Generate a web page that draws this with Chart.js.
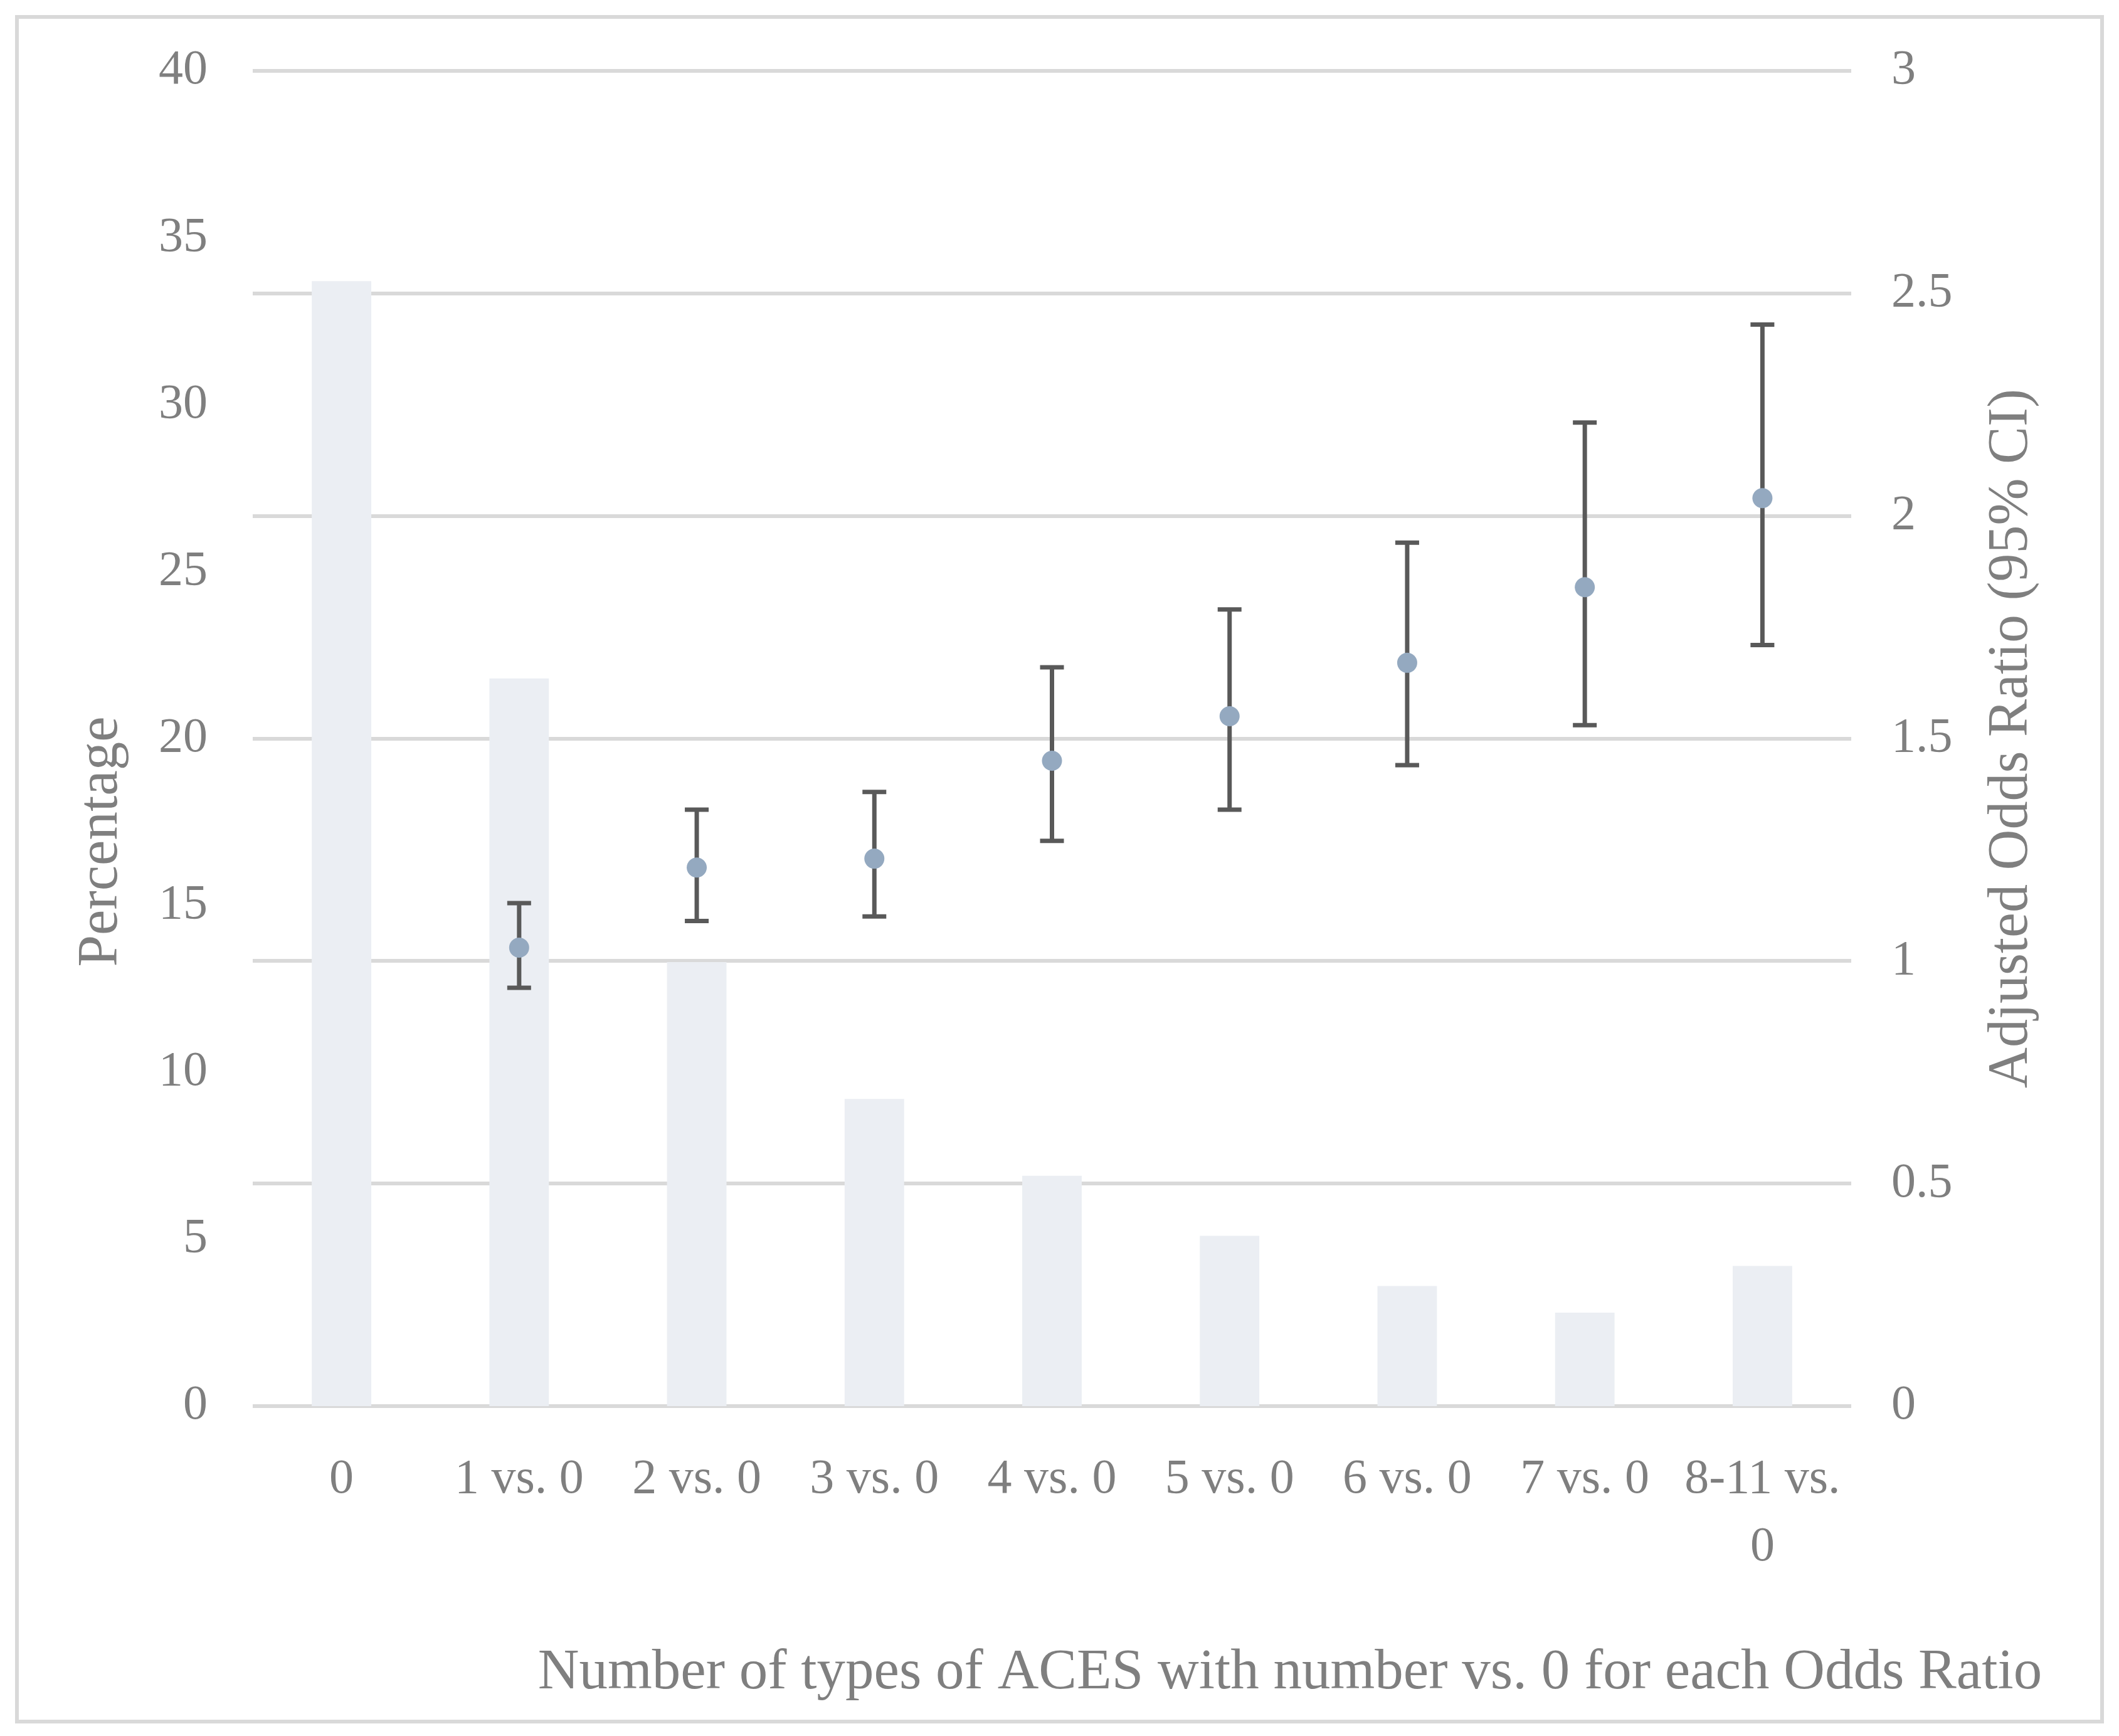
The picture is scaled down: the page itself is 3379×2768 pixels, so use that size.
<!DOCTYPE html>
<html>
<head>
<meta charset="utf-8">
<script src="https://cdn.jsdelivr.net/npm/chart.js@4.4.0/dist/chart.umd.min.js"></script>
<style>
  html, body { margin: 0; padding: 0; background: #fff; }
  canvas { display: block; }
</style>
</head>
<body>
<canvas id="acesChart" width="3379" height="2768"></canvas>
<script>
// Data
const categories = ['0', '1 vs. 0', '2 vs. 0', '3 vs. 0', '4 vs. 0', '5 vs. 0', '6 vs. 0', '7 vs. 0', ['8-11 vs.', '0']];
const percentages = [33.7, 21.8, 13.3, 9.2, 6.9, 5.1, 3.6, 2.8, 4.2];
const oddsRatios = [null, 1.03, 1.21, 1.23, 1.45, 1.55, 1.67, 1.84, 2.04];
const ciLower = [null, 0.94, 1.09, 1.10, 1.27, 1.34, 1.44, 1.53, 1.71];
const ciUpper = [null, 1.13, 1.34, 1.38, 1.66, 1.79, 1.94, 2.21, 2.43];

const xTitle = 'Number of types of ACES with number vs. 0 for each Odds Ratio';
const leftTitle = 'Percentage';
const rightTitle = 'Adjusted Odds Ratio (95% CI)';

const textColor = '#7f7f7f';
const fontFamily = "'Liberation Serif', 'DejaVu Serif', serif";

Chart.defaults.font.family = fontFamily;
Chart.defaults.color = textColor;

// white background + light grey frame
const frame = {
    id: 'frame',
    beforeDraw(chart) {
        const ctx = chart.ctx;
        ctx.save();
        ctx.fillStyle = '#ffffff';
        ctx.fillRect(0, 0, chart.width, chart.height);
        ctx.strokeStyle = '#d9d9d9';
        ctx.lineWidth = 6;
        ctx.strokeRect(27, 27, chart.width - 54, chart.height - 50);
        ctx.restore();
    }
};

// 95% CI whiskers, drawn just before the points so the dots sit on top
const errorBars = {
    id: 'errorBars',
    beforeDatasetDraw(chart, args) {
        if (args.index !== 1) return;
        const ctx = chart.ctx;
        const x = chart.scales.x;
        const y1 = chart.scales.y1;
        ctx.save();
        ctx.strokeStyle = '#595959';
        ctx.lineWidth = 7;
        ctx.lineCap = 'butt';
        for (let i = 0; i < categories.length; i++) {
            if (oddsRatios[i] == null) continue;
            const px = x.getPixelForValue(i);
            const top = y1.getPixelForValue(ciUpper[i]);
            const bot = y1.getPixelForValue(ciLower[i]);
            ctx.beginPath();
            ctx.moveTo(px, top);
            ctx.lineTo(px, bot);
            ctx.moveTo(px - 19, top);
            ctx.lineTo(px + 19, top);
            ctx.moveTo(px - 19, bot);
            ctx.lineTo(px + 19, bot);
            ctx.stroke();
        }
        ctx.restore();
    }
};

// axis titles placed like the original (left one sits lower, both read bottom-up)
const axisTitles = {
    id: 'axisTitles',
    afterDraw(chart) {
        const ctx = chart.ctx;
        const area = chart.chartArea;
        ctx.save();
        ctx.fillStyle = textColor;
        ctx.textAlign = 'center';
        ctx.textBaseline = 'middle';
        ctx.font = '91px ' + fontFamily;

        ctx.fillText(xTitle, 2057, 2668);

        ctx.save();
        ctx.translate(162, 1342);
        ctx.rotate(-Math.PI / 2);
        ctx.fillText(leftTitle, 0, 0);
        ctx.restore();

        ctx.save();
        ctx.font = '90px ' + fontFamily;
        ctx.translate(3208, (area.top + area.bottom) / 2);
        ctx.rotate(-Math.PI / 2);
        ctx.fillText(rightTitle, 0, 0);
        ctx.restore();

        ctx.restore();
    }
};

new Chart(document.getElementById('acesChart'), {
    type: 'bar',
    data: {
        labels: categories,
        datasets: [{
            label: 'Percentage',
            data: percentages,
            yAxisID: 'y',
            order: 2,
            backgroundColor: '#ebeef3',
            barPercentage: 0.335,
            categoryPercentage: 1.0
        }, {
            type: 'line',
            label: 'Adjusted Odds Ratio',
            data: oddsRatios,
            yAxisID: 'y1',
            order: 1,
            showLine: false,
            pointRadius: 16,
            pointHoverRadius: 16,
            pointBorderWidth: 0,
            pointBackgroundColor: '#94a9c0',
            borderColor: '#94a9c0'
        }]
    },
    options: {
        responsive: false,
        devicePixelRatio: 1,
        animation: false,
        layout: { padding: { left: 60, right: 60, top: 113, bottom: 20 } },
        plugins: {
            legend: { display: false },
            tooltip: { enabled: false }
        },
        scales: {
            x: {
                grid: { display: false },
                border: { display: false },
                ticks: {
                    font: { size: 78, lineHeight: 1.38 },
                    padding: 56,
                    maxRotation: 0,
                    autoSkip: false
                },
                afterFit(scale) { scale.height = 506; }
            },
            y: {
                position: 'left',
                min: 0,
                max: 40,
                grid: { display: false },
                border: { display: false },
                ticks: { stepSize: 5, font: { size: 78 }, padding: 64 },
                afterFit(scale) { scale.width = 343; }
            },
            y1: {
                position: 'right',
                min: 0,
                max: 3,
                grid: { color: '#d9d9d9', lineWidth: 6, drawTicks: false },
                border: { display: false },
                ticks: {
                    stepSize: 0.5,
                    font: { size: 78 },
                    padding: 64,
                    callback: (value) => String(value)
                },
                afterFit(scale) { scale.width = 367; }
            }
        }
    },
    plugins: [frame, errorBars, axisTitles]
});
</script>
</body>
</html>
